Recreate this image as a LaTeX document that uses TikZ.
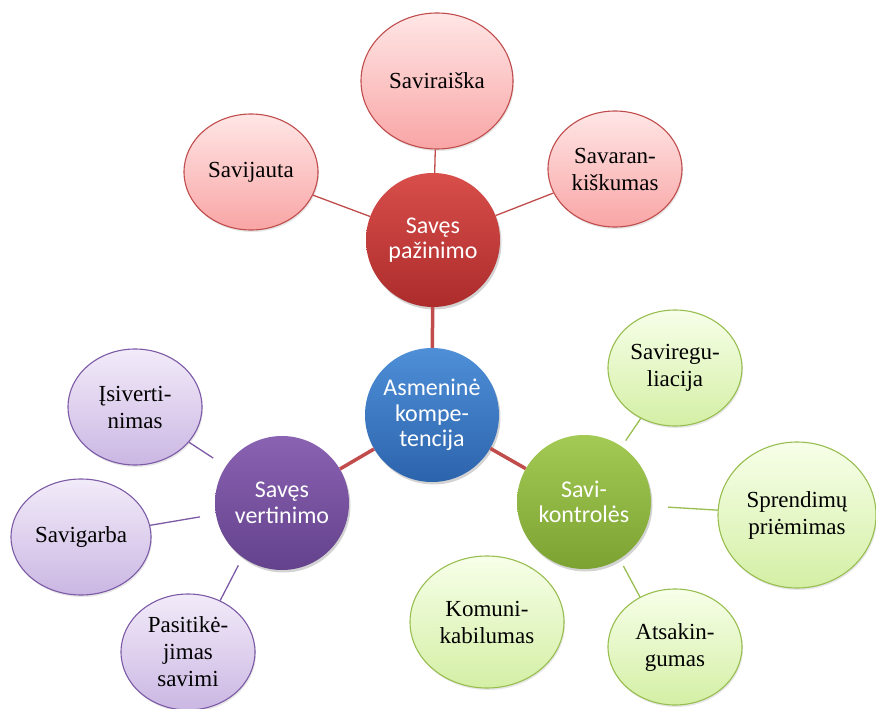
\documentclass[tikz,border=0pt]{standalone}
\usepackage{fontspec}
\setmainfont{Liberation Serif}
\newfontfamily\hubfont{Carlito}
\usetikzlibrary{shapes.geometric,shadows}
\definecolor{redhubtop}{RGB}{216,78,74}
\definecolor{redhubbot}{RGB}{172,44,44}
\definecolor{bluehubtop}{RGB}{78,143,216}
\definecolor{bluehubbot}{RGB}{44,100,172}
\definecolor{purphubtop}{RGB}{138,98,178}
\definecolor{purphubbot}{RGB}{100,66,140}
\definecolor{greenhubtop}{RGB}{163,202,84}
\definecolor{greenhubbot}{RGB}{124,163,50}
\definecolor{redouttop}{RGB}{255,230,230}
\definecolor{redoutbot}{RGB}{249,165,165}
\definecolor{redline}{RGB}{192,76,76}
\definecolor{purpouttop}{RGB}{242,235,249}
\definecolor{purpoutbot}{RGB}{203,183,227}
\definecolor{purpline}{RGB}{124,90,166}
\definecolor{greenouttop}{RGB}{247,255,233}
\definecolor{greenoutbot}{RGB}{212,239,165}
\definecolor{greenline}{RGB}{152,190,80}
\tikzset{
	hub/.style={circle,minimum size=134pt,inner sep=0pt,align=center,text=white,font=\hubfont\fontsize{24}{25.5}\selectfont,drop shadow={opacity=0.35,shadow xshift=1.5pt,shadow yshift=-2.5pt}},%
	leaf/.style={ellipse,minimum width=134pt,minimum height=116pt,inner sep=0pt,align=center,font=\fontsize{23}{27}\selectfont,line width=1.1pt,drop shadow={opacity=0.2,shadow xshift=1pt,shadow yshift=-2pt}},%
	redhub/.style={hub,top color=redhubtop,bottom color=redhubbot},%
	bluehub/.style={hub,top color=bluehubtop,bottom color=bluehubbot},%
	purphub/.style={hub,top color=purphubtop,bottom color=purphubbot},%
	greenhub/.style={hub,top color=greenhubtop,bottom color=greenhubbot},%
	redleaf/.style={leaf,draw=redline,top color=redouttop,bottom color=redoutbot},%
	purpleaf/.style={leaf,draw=purpline,top color=purpouttop,bottom color=purpoutbot},%
	greenleaf/.style={leaf,draw=greenline,top color=greenouttop,bottom color=greenoutbot},%
	hubline/.style={redline,line width=3.5pt},%
	redlink/.style={redline,line width=1.3pt},%
	purplink/.style={purpline,line width=1.3pt},%
	greenlink/.style={greenline,line width=1.3pt},%
}
\begin{document}
\begin{tikzpicture}[x=1pt,y=-1pt]
		\useasboundingbox (0,0) rectangle (876,709);
		% Hubs {{{
		\node[bluehub] (asmenine) at (432,415) {Asmeninė\\kompe-\\tencija};
		\node[redhub] (pazinimo) at (433,240) {Savęs\\pažinimo};
		\node[purphub] (vertinimo) at (282,503) {Savęs\\vertinimo};
		\node[greenhub] (kontroles) at (584,502) {Savi-\\kontrolės};
		% }}}
		% Leaves {{{
		\node[redleaf,minimum width=152pt,minimum height=136pt] (saviraiska) at (437,81) {Saviraiška};
		\node[redleaf] (savijauta) at (251,172) {Savijauta};
		\node[redleaf] (savarankiskumas) at (615,169) {Savaran-\\kiškumas};
		\node[purpleaf] (isivertinimas) at (135,407) {Įsiverti-\\nimas};
		\node[purpleaf,minimum width=140pt] (savigarba) at (81,537) {Savigarba};
		\node[purpleaf] (pasitikejimas) at (188,652) {Pasitikė-\\jimas\\savimi};
		\node[greenleaf] (savireguliacija) at (675,368) {Saviregu-\\liacija};
		\node[greenleaf,minimum width=158pt,minimum height=146pt] (sprendimu) at (797,515) {Sprendimų\\priėmimas};
		\node[greenleaf,minimum width=154pt,minimum height=132pt] (komunikabilumas) at (487,622) {Komuni-\\kabilumas};
		\node[greenleaf] (atsakingumas) at (675,647) {Atsakin-\\gumas};
		% }}}
		% Links {{{
		\draw[hubline] (pazinimo) -- (asmenine);
		\draw[hubline] (vertinimo) -- (asmenine);
		\draw[hubline] (kontroles) -- (asmenine);
		\draw[redlink] (saviraiska) -- (pazinimo);
		\draw[redlink] (savijauta) -- (pazinimo);
		\draw[redlink] (savarankiskumas) -- (pazinimo);
		\draw[purplink,shorten >=15pt] (isivertinimas) -- (vertinimo);
		\draw[purplink,shorten >=16pt] (savigarba) -- (vertinimo);
		\draw[purplink,shorten >=9pt] (pasitikejimas.58) -- (vertinimo.234);
		\draw[greenlink,shorten >=7pt] (savireguliacija) -- (kontroles);
		\draw[greenlink,shorten >=17pt] (sprendimu) -- (kontroles);
		\draw[greenlink,shorten >=18pt] (komunikabilumas) -- (kontroles);
		\draw[greenlink,shorten >=8pt] (atsakingumas.125) -- (kontroles.302);
		% }}}
	\end{tikzpicture}
\end{document}
